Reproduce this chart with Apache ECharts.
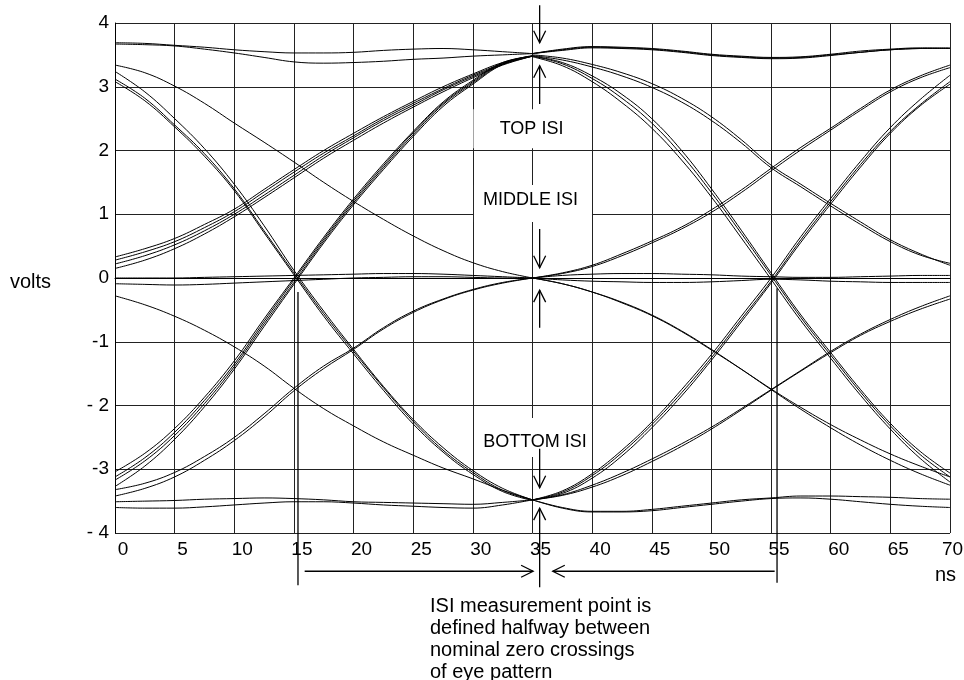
<!DOCTYPE html>
<html>
<head>
<meta charset="utf-8">
<script src="https://cdn.jsdelivr.net/npm/echarts@6/dist/echarts.min.js"></script>
<style>
  html, body { margin: 0; padding: 0; background: #fff; }
  #main { width: 964px; height: 680px; }
</style>
</head>
<body>
<div id="main"></div>
<script>
// sample times (ns) for the two halves of the eye
var tLeft = [0, 2.5, 5, 7.5, 10, 12.5, 15, 17.5, 20, 22.5, 25, 27.5, 30, 32.5, 35];
var tRight = [35, 37.5, 40, 42.5, 45, 47.5, 50, 52.5, 55, 57.5, 60, 62.5, 65, 67.5, 70];

// left half, 0..35 ns (volts)
var hiHoldA = [3.69, 3.68, 3.65, 3.62, 3.58, 3.55, 3.53, 3.53, 3.54, 3.57, 3.59, 3.6, 3.58, 3.55, 3.52];
var hiHoldB = [3.67, 3.66, 3.64, 3.59, 3.53, 3.46, 3.39, 3.37, 3.38, 3.4, 3.43, 3.45, 3.48, 3.5, 3.52];
var hiToMid = [3.34, 3.22, 3.01, 2.74, 2.43, 2.13, 1.82, 1.5, 1.2, 0.92, 0.66, 0.43, 0.24, 0.1, 0.0];
var hiToLoA = [3.24, 2.92, 2.5, 2.03, 1.47, 0.82, 0.12, -0.52, -1.12, -1.7, -2.22, -2.66, -3.02, -3.3, -3.48];
var hiToLoB = [3.12, 2.82, 2.4, 1.95, 1.4, 0.74, 0.08, -0.56, -1.15, -1.72, -2.25, -2.7, -3.05, -3.33, -3.48];
var hiToLoC = [3.08, 2.78, 2.37, 1.91, 1.37, 0.71, 0.05, -0.6, -1.19, -1.76, -2.29, -2.73, -3.08, -3.35, -3.49];
var midToHiA = [0.33, 0.46, 0.62, 0.84, 1.08, 1.39, 1.7, 2.0, 2.27, 2.53, 2.77, 3.0, 3.2, 3.38, 3.49];
var midToHiB = [0.28, 0.41, 0.57, 0.79, 1.04, 1.35, 1.66, 1.96, 2.23, 2.5, 2.74, 2.97, 3.18, 3.36, 3.48];
var midToHiC = [0.22, 0.35, 0.52, 0.74, 1.0, 1.3, 1.61, 1.92, 2.2, 2.47, 2.71, 2.95, 3.16, 3.35, 3.48];
var midToHiD = [0.15, 0.28, 0.46, 0.69, 0.96, 1.26, 1.57, 1.88, 2.16, 2.43, 2.68, 2.92, 3.14, 3.34, 3.48];
var midHoldA = [0.0, 0.0, 0.0, 0.01, 0.02, 0.03, 0.04, 0.05, 0.06, 0.07, 0.07, 0.06, 0.04, 0.02, 0.0];
var midHoldB = [-0.09, -0.1, -0.11, -0.1, -0.08, -0.06, -0.04, -0.02, 0.0, 0.01, 0.02, 0.02, 0.01, 0.0, 0.0];
var midToLo = [-0.28, -0.42, -0.6, -0.82, -1.08, -1.38, -1.73, -2.05, -2.32, -2.57, -2.78, -2.98, -3.15, -3.33, -3.48];
var loToHiA = [-3.04, -2.75, -2.36, -1.87, -1.3, -0.64, 0.0, 0.64, 1.24, 1.79, 2.3, 2.76, 3.1, 3.38, 3.48];
var loToHiB = [-3.12, -2.82, -2.42, -1.92, -1.35, -0.68, -0.03, 0.61, 1.21, 1.76, 2.28, 2.74, 3.08, 3.37, 3.48];
var loToHiC = [-3.17, -2.87, -2.47, -1.97, -1.39, -0.72, -0.07, 0.58, 1.18, 1.73, 2.25, 2.72, 3.06, 3.36, 3.48];
var loToHiD = [-3.27, -2.95, -2.53, -2.02, -1.43, -0.76, -0.1, 0.55, 1.15, 1.7, 2.22, 2.69, 3.04, 3.35, 3.48];
var loToMidA = [-3.32, -3.22, -3.05, -2.8, -2.5, -2.13, -1.73, -1.38, -1.1, -0.78, -0.52, -0.33, -0.18, -0.07, 0.0];
var loToMidB = [-3.42, -3.3, -3.12, -2.86, -2.55, -2.18, -1.77, -1.42, -1.12, -0.8, -0.54, -0.34, -0.19, -0.08, 0.0];
var loHoldA = [-3.51, -3.5, -3.49, -3.47, -3.46, -3.45, -3.46, -3.48, -3.51, -3.52, -3.53, -3.54, -3.55, -3.52, -3.48];
var loHoldB = [-3.6, -3.61, -3.61, -3.59, -3.56, -3.53, -3.51, -3.51, -3.53, -3.56, -3.58, -3.6, -3.61, -3.56, -3.48];

// right half, 35..70 ns (volts)
var hiHoldRA = [3.52, 3.58, 3.62, 3.61, 3.59, 3.55, 3.5, 3.47, 3.45, 3.46, 3.5, 3.54, 3.58, 3.6, 3.6];
var hiHoldRB = [3.52, 3.57, 3.61, 3.6, 3.58, 3.54, 3.49, 3.46, 3.44, 3.45, 3.49, 3.54, 3.58, 3.6, 3.61];
var hiHoldRC = [3.52, 3.59, 3.63, 3.62, 3.6, 3.56, 3.51, 3.48, 3.46, 3.47, 3.51, 3.56, 3.59, 3.61, 3.6];
var hiToMidRA = [3.5, 3.45, 3.35, 3.22, 3.05, 2.82, 2.53, 2.17, 1.77, 1.47, 1.17, 0.88, 0.6, 0.38, 0.2];
var hiToMidRB = [3.49, 3.42, 3.31, 3.17, 2.99, 2.76, 2.47, 2.12, 1.73, 1.43, 1.13, 0.84, 0.57, 0.36, 0.23];
var hiToLoRA = [3.48, 3.38, 3.17, 2.88, 2.5, 2.0, 1.4, 0.75, 0.08, -0.58, -1.17, -1.75, -2.28, -2.72, -3.06];
var hiToLoRB = [3.48, 3.36, 3.13, 2.82, 2.43, 1.93, 1.34, 0.7, 0.04, -0.62, -1.21, -1.79, -2.32, -2.77, -3.12];
var hiToLoRC = [3.47, 3.33, 3.08, 2.75, 2.35, 1.85, 1.27, 0.63, -0.02, -0.67, -1.26, -1.84, -2.37, -2.83, -3.2];
var midToHiRA = [0.0, 0.08, 0.2, 0.38, 0.58, 0.8, 1.07, 1.38, 1.72, 2.05, 2.35, 2.66, 2.95, 3.17, 3.34];
var midToHiRB = [0.0, 0.07, 0.18, 0.35, 0.55, 0.77, 1.03, 1.34, 1.68, 2.01, 2.32, 2.63, 2.92, 3.14, 3.3];
var midHoldRA = [0.0, 0.04, 0.06, 0.07, 0.07, 0.06, 0.05, 0.03, 0.02, 0.01, 0.01, 0.02, 0.03, 0.04, 0.04];
var midHoldRB = [0.0, -0.03, -0.05, -0.06, -0.07, -0.07, -0.06, -0.04, -0.02, -0.03, -0.05, -0.06, -0.07, -0.07, -0.07];
var midToLoRA = [0.0, -0.09, -0.22, -0.38, -0.58, -0.83, -1.12, -1.43, -1.75, -2.06, -2.35, -2.62, -2.86, -3.07, -3.25];
var midToLoRB = [0.0, -0.09, -0.22, -0.39, -0.59, -0.84, -1.13, -1.43, -1.74, -2.03, -2.3, -2.54, -2.76, -2.95, -3.12];
var loToHiRA = [-3.48, -3.36, -3.1, -2.74, -2.3, -1.8, -1.25, -0.65, -0.05, 0.6, 1.2, 1.78, 2.3, 2.72, 3.08];
var loToHiRB = [-3.48, -3.38, -3.14, -2.79, -2.35, -1.85, -1.29, -0.69, -0.08, 0.56, 1.16, 1.74, 2.27, 2.7, 3.04];
var loToHiRC = [-3.48, -3.34, -3.07, -2.7, -2.26, -1.75, -1.2, -0.6, 0.0, 0.65, 1.25, 1.83, 2.36, 2.8, 3.18];
var loToMidRA = [-3.48, -3.4, -3.25, -3.06, -2.84, -2.6, -2.34, -2.05, -1.75, -1.45, -1.15, -0.88, -0.65, -0.45, -0.28];
var loToMidRB = [-3.48, -3.41, -3.28, -3.1, -2.88, -2.64, -2.37, -2.07, -1.76, -1.46, -1.17, -0.9, -0.68, -0.49, -0.33];
var loHoldRA = [-3.48, -3.6, -3.66, -3.66, -3.63, -3.58, -3.53, -3.48, -3.45, -3.42, -3.42, -3.43, -3.44, -3.46, -3.47];
var loHoldRB = [-3.48, -3.61, -3.67, -3.67, -3.65, -3.6, -3.55, -3.5, -3.46, -3.45, -3.47, -3.51, -3.55, -3.58, -3.6];

var leftTraces = [hiHoldA, hiHoldB, hiToMid, hiToLoA, hiToLoB, hiToLoC, midToHiA, midToHiB, midToHiC, midToHiD,
    midHoldA, midHoldB, midToLo, loToHiA, loToHiB, loToHiC, loToHiD, loToMidA, loToMidB, loHoldA, loHoldB];
var rightTraces = [hiHoldRA, hiHoldRB, hiHoldRC, hiToMidRA, hiToMidRB, hiToLoRA, hiToLoRB, hiToLoRC, midToHiRA, midToHiRB,
    midHoldRA, midHoldRB, midToLoRA, midToLoRB, loToHiRA, loToHiRB, loToHiRC, loToMidRA, loToMidRB, loHoldRA, loHoldRB];

var yTickText = {'-1': '-1', '-2': '- 2', '-3': '-3', '-4': '- 4'};

var FONT = '"Liberation Sans", Arial, Helvetica, sans-serif';

function pairUp(times, vals) {
    return times.map(function (t, i) { return [t, vals[i]]; });
}

function traceSeries(times, vals) {
    return {
        type: 'line',
        data: pairUp(times, vals),
        smooth: 0.4,
        symbol: 'none',
        silent: true,
        z: 3,
        lineStyle: { color: '#000', width: 1 }
    };
}

var series = [];
leftTraces.forEach(function (v) { series.push(traceSeries(tLeft, v)); });
rightTraces.forEach(function (v) { series.push(traceSeries(tRight, v)); });

var mychart = echarts.init(document.getElementById('main'));
var option = {
    animation: false,
    backgroundColor: '#fff',
    grid: { left: 115, top: 23, right: 14, bottom: 147, containLabel: false, outerBoundsMode: 'none' },
    xAxis: {
        type: 'value',
        min: 0, max: 70, interval: 5,
        axisLine: { show: true, lineStyle: { color: '#000', width: 1 } },
        axisTick: { show: false },
        splitLine: { show: true, lineStyle: { color: '#222', width: 1 } },
        axisLabel: {
            color: '#000', fontSize: 19, fontFamily: FONT,
            margin: 7, padding: [0, 0, 0, 16],
            // last label sits a little closer to its tick so it stays on the page
            formatter: function (v) { return v === 70 ? '{last|70}' : String(v); },
            rich: { last: { fontSize: 19, fontFamily: FONT, color: '#000', padding: [0, 11, 0, 0] } }
        }
    },
    yAxis: {
        type: 'value',
        min: -4, max: 4, interval: 1,
        axisLine: { show: true, onZero: false, lineStyle: { color: '#000', width: 1 } },
        axisTick: { show: false },
        splitLine: { show: true, lineStyle: { color: '#222', width: 1 } },
        axisLabel: {
            color: '#000', fontSize: 19, fontFamily: FONT, margin: 6,
            formatter: function (v) { return yTickText[String(v)] || String(v); }
        }
    },
    series: series
};
mychart.setOption(option);

// annotations, placed in data coordinates (ns, volts)
var isiArrows = [
    [[35.6, 4.28], [35.6, 3.69]],
    [[35.6, 2.73], [35.6, 3.33]],
    [[35.6, 0.77], [35.6, 0.16]],
    [[35.6, -0.78], [35.6, -0.19]],
    [[35.6, -2.68], [35.6, -3.29]],
    [[35.6, -4.85], [35.6, -3.61]],
    [[15.9, -4.6], [35.05, -4.6]],
    [[55.3, -4.6], [36.7, -4.6]]
];
var crossMarks = [
    [[15.34, -0.22], [15.34, -4.82]],
    [[55.5, -0.16], [55.5, -4.78]]
];
var isiBoxes = [
    { text: 'TOP ISI', box: [34.95, 2.34], w: 117, h: 39, at: [34.92, 2.34] },
    { text: 'MIDDLE ISI', box: [35.04, 1.17], w: 118, h: 37, at: [34.83, 1.22] },
    { text: 'BOTTOM ISI', box: [35.2, -2.5], w: 114, h: 39, at: [35.21, -2.57] }
];

function px(p) { return mychart.convertToPixel({ gridIndex: 0 }, p); }

var graphics = [];
function addLine(pts) {
    graphics.push({
        type: 'polyline', z: 100, silent: true,
        shape: { points: pts },
        style: { stroke: '#000', lineWidth: 1.3, fill: null }
    });
}

isiArrows.forEach(function (a) {
    var p0 = px(a[0]), p1 = px(a[1]);
    var dx = p1[0] - p0[0], dy = p1[1] - p0[1];
    var len = Math.sqrt(dx * dx + dy * dy);
    var ux = dx / len, uy = dy / len;
    var hl = 12, hw = 6;
    addLine([p0, p1]);
    addLine([
        [p1[0] - ux * hl - uy * hw, p1[1] - uy * hl + ux * hw],
        p1,
        [p1[0] - ux * hl + uy * hw, p1[1] - uy * hl - ux * hw]
    ]);
});
crossMarks.forEach(function (m) { addLine([px(m[0]), px(m[1])]); });

isiBoxes.forEach(function (b) {
    var c = px(b.box), t = px(b.at);
    graphics.push({
        type: 'rect', z: 90, silent: true,
        shape: { x: c[0] - b.w / 2, y: c[1] - b.h / 2, width: b.w, height: b.h },
        style: { fill: '#fff' }
    });
    graphics.push({
        type: 'text', z: 101, silent: true,
        x: t[0], y: t[1],
        style: {
            text: b.text, fill: '#000', font: '18px ' + FONT,
            textAlign: 'center', textVerticalAlign: 'middle'
        }
    });
});

graphics.push({
    type: 'text', z: 101, silent: true, left: 10, top: 272,
    style: { text: 'volts', fill: '#000', font: '20px ' + FONT }
});
graphics.push({
    type: 'text', z: 101, silent: true, left: 935, top: 565,
    style: { text: 'ns', fill: '#000', font: '20px ' + FONT }
});
graphics.push({
    type: 'text', z: 101, silent: true, left: 430, top: 595,
    style: {
        text: 'ISI measurement point is\ndefined halfway between\nnominal zero crossings\nof eye pattern',
        fill: '#000', font: '20px ' + FONT, lineHeight: 22
    }
});

mychart.setOption({ graphic: graphics });
</script>
</body>
</html>
